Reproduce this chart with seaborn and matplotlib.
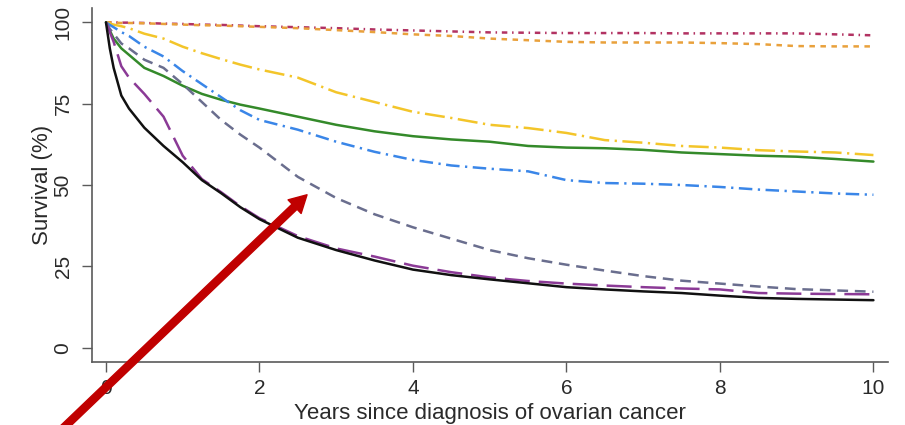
import numpy as np
import pandas as pd
import matplotlib
matplotlib.use("Agg")
import matplotlib.pyplot as plt
import seaborn as sns

# ---- data ----
years = [0, 0.05, 0.1, 0.2, 0.3, 0.5, 0.75, 1, 1.25, 1.5, 1.75, 2, 2.5, 3, 3.5,
         4, 4.5, 5, 5.5, 6, 6.5, 7, 7.5, 8, 8.5, 9, 9.5, 10]

crimson = [100, 100, 100, 99.9, 99.9, 99.8, 99.6, 99.5, 99.3, 99.2, 99, 98.8, 98.5, 98.2, 97.8,
           97.5, 97.2, 96.9, 96.8, 96.7, 96.7, 96.7, 96.6, 96.6, 96.6, 96.6, 96.3, 96]
orange = [100, 100, 99.9, 99.8, 99.8, 99.7, 99.5, 99.3, 99.1, 99, 98.8, 98.6, 98.2, 97.6, 97,
          96.3, 95.8, 95, 94.5, 94, 93.8, 93.8, 93.8, 93.6, 93.3, 92.7, 92.6, 92.6]
yellow = [100, 99.6, 99.3, 98.8, 98.2, 96.5, 95, 92.5, 90.5, 88.7, 87, 85.5, 83, 78.5, 75.5,
          72.5, 70.6, 68.5, 67.5, 66, 63.8, 63, 62, 61.5, 60.7, 60.3, 60, 59.2]
green = [100, 97.5, 95, 92, 90, 86, 83.5, 80.5, 78, 76.2, 74.7, 73.5, 71, 68.5, 66.5,
         65, 64, 63.3, 62, 61.5, 61.3, 60.8, 60, 59.5, 59, 58.7, 58, 57.2]
blue = [100, 99.2, 98.5, 97, 95.8, 92.5, 89.5, 85, 81, 77, 73, 70, 67, 63.3, 60.2,
        57.7, 56, 55, 54.2, 51.5, 50.6, 50.4, 50, 49.4, 48.6, 48, 47.4, 47]
slate = [100, 98, 96.5, 93.5, 92, 88.5, 86, 81, 75.5, 70, 65.5, 61.5, 52.5, 46, 41,
         37, 33.5, 30, 27.5, 25.5, 23.7, 22, 20.6, 19.7, 18.8, 18, 17.6, 17.2]
purple = [100, 97, 94, 86.5, 83, 78, 71, 59, 51.8, 47.8, 43.5, 39.8, 34.3, 30.5, 28,
          25.2, 23.2, 21.6, 20.5, 19.7, 19.1, 18.6, 18.2, 17.9, 16.8, 16.6, 16.5, 16.4]
black = [100, 92, 86, 77.5, 73.5, 67.6, 62, 57, 51.5, 47.5, 43.2, 39.5, 33.8, 30, 26.8,
         24, 22.3, 21, 19.8, 18.6, 17.9, 17.3, 16.8, 16, 15.3, 15, 14.8, 14.6]

groups = ["crimson", "orange", "yellow", "green", "blue", "slate", "purple", "black"]
series = [crimson, orange, yellow, green, blue, slate, purple, black]

x_ticks = [0, 2, 4, 6, 8, 10]
y_ticks = [0, 25, 50, 75, 100]
x_label = "Years since diagnosis of ovarian cancer"
y_label = "Survival (%)"

# arrow annotation (data coordinates): tail -> tip
arrow_tail = (-0.68, -27.5)
arrow_tip = (2.62, 47.0)

# ---- styles ----
palette = {
    "crimson": "#B23262",
    "orange": "#E9A13C",
    "yellow": "#F3C52A",
    "green": "#348A2A",
    "blue": "#3A86E8",
    "slate": "#6A6E8E",
    "purple": "#8B3A96",
    "black": "#111111",
}
dashes = {
    "crimson": (2.2, 1.9, 0.6, 1.9),
    "orange": (2.2, 2.2),
    "yellow": (8.0, 2.2, 0.9, 2.2),
    "green": "",
    "blue": (5.4, 2.2, 0.9, 2.2),
    "slate": (4.3, 2.7),
    "purple": (10.0, 3.6),
    "black": "",
}

df = pd.concat(
    [pd.DataFrame({"years": years, "survival": s, "group": g}) for g, s in zip(groups, series)],
    ignore_index=True,
)

sns.set_theme(style="white")
plt.rcParams["font.family"] = ["Liberation Sans", "DejaVu Sans"]
text_color = "#2a2a2a"
axis_color = "#5a5a5a"

fig = plt.figure(figsize=(9.05, 4.25), dpi=100)
ax = fig.add_axes([92 / 905, 1 - 362 / 425, (888 - 92) / 905, (362 - 8) / 425])

sns.lineplot(
    data=df, x="years", y="survival", hue="group", style="group",
    hue_order=groups, style_order=groups, palette=palette, dashes=dashes,
    linewidth=1.8, legend=False, estimator=None, sort=False, ax=ax,
)

ax.set_xlim(-0.182, 10.19)
ax.set_ylim(-4.4, 104.4)
ax.set_xticks(x_ticks)
ax.set_yticks(y_ticks)
ax.set_xticklabels([str(v) for v in x_ticks])
ax.set_yticklabels([str(v) for v in y_ticks], rotation=90, va="center")

for side in ["top", "right"]:
    ax.spines[side].set_visible(False)
for side in ["left", "bottom"]:
    ax.spines[side].set_color(axis_color)
    ax.spines[side].set_linewidth(1.2)

ax.tick_params(axis="both", which="major", direction="out", length=7, width=1.0,
               color=axis_color, labelsize=15, labelcolor=text_color, left=True, bottom=True)
ax.tick_params(axis="y", pad=7)
ax.tick_params(axis="x", pad=5.5)

ax.set_xlabel(x_label, fontsize=16, color=text_color)
ax.set_ylabel(y_label, fontsize=16, color=text_color)
ax.xaxis.set_label_coords(0.5, -0.117)
ax.xaxis.label.set_va("top")
ax.yaxis.set_label_coords(-0.0496, 0.5)

ax.annotate(
    "", xy=arrow_tip, xytext=arrow_tail, xycoords="data", textcoords="data",
    arrowprops=dict(arrowstyle="simple,head_length=0.62,head_width=0.68,tail_width=0.26",
                    color="#C00000", mutation_scale=20, shrinkA=0, shrinkB=0),
    annotation_clip=False,
)

fig.savefig("out.png", dpi=100)
